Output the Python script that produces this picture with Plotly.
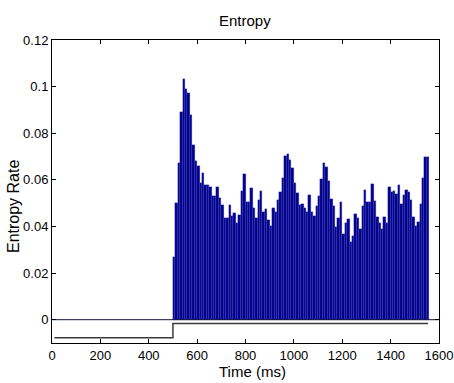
import plotly.graph_objects as go

# Entropy rate per 10 ms bin, starting at 500 ms
bin_start = 500
bin_width = 10
entropy_rate = [
    0.0267, 0.050, 0.0674, 0.0889, 0.1031, 0.0989, 0.0974, 0.0879, 0.075, 0.0679,
    0.066, 0.0586, 0.0629, 0.0579, 0.0579, 0.0571, 0.0529, 0.0529, 0.0571, 0.0521,
    0.049, 0.0436, 0.0436, 0.049, 0.0446, 0.0457, 0.0417, 0.045, 0.0553, 0.0626,
    0.0503, 0.0503, 0.0564, 0.0481, 0.0436, 0.0514, 0.0554, 0.0464, 0.0476, 0.0429,
    0.040, 0.0479, 0.0464, 0.0514, 0.055, 0.0607, 0.0703, 0.071, 0.0686, 0.065,
    0.0586, 0.0543, 0.049, 0.0497, 0.0479, 0.046, 0.0536, 0.0464, 0.0446, 0.0486,
    0.0529, 0.0603, 0.0671, 0.0654, 0.0596, 0.0519, 0.0486, 0.0396, 0.0436, 0.0504,
    0.0369, 0.0414, 0.0433, 0.0333, 0.036, 0.0453, 0.0436, 0.039, 0.0489, 0.0557,
    0.0507, 0.0507, 0.0583, 0.051, 0.0439, 0.0414, 0.0389, 0.0439, 0.0414, 0.0569,
    0.055, 0.0553, 0.0539, 0.0576, 0.0496, 0.0536, 0.0557, 0.0546, 0.0514, 0.0439,
    0.040, 0.0419, 0.0497, 0.0607, 0.0697, 0.0697,
]
bin_centers = [bin_start + bin_width * (i + 0.5) for i in range(len(entropy_rate))]

# Stimulus trace drawn below the bars
stim_t = [10, 500, 500, 1555]
stim_v = [-0.0077, -0.0077, -0.0016, -0.0016]

# Baseline
base_t = [0, 1600]
base_v = [0, 0]

x_ticks = [0, 200, 400, 600, 800, 1000, 1200, 1400, 1600]
y_ticks = [0, 0.02, 0.04, 0.06, 0.08, 0.1, 0.12]
y_tick_text = ["0", "0.02", "0.04", "0.06", "0.08", "0.1", "0.12"]

fig = go.Figure()
fig.add_trace(go.Bar(
    x=bin_centers, y=entropy_rate, width=bin_width,
    marker=dict(color="#00008C", line=dict(color="rgba(70,70,190,0.6)", width=0.4)),
    showlegend=False, hoverinfo="skip",
))
fig.add_trace(go.Scatter(
    x=base_t, y=base_v, mode="lines",
    line=dict(color="#101040", width=1), showlegend=False, hoverinfo="skip",
))
fig.add_trace(go.Scatter(
    x=stim_t, y=stim_v, mode="lines",
    line=dict(color="#3a3a3a", width=1.5), showlegend=False, hoverinfo="skip",
))

font_family = "Liberation Sans, Arial, Helvetica, sans-serif"
fig.update_layout(
    width=454, height=383,
    margin=dict(l=52, r=15, t=40, b=40, autoexpand=False),
    paper_bgcolor="white", plot_bgcolor="white",
    bargap=0,
    font=dict(family=font_family, size=13, color="black"),
    xaxis=dict(
        range=[0, 1600], tickvals=x_ticks, ticktext=[str(v) for v in x_ticks],
        ticks="inside", ticklen=4, tickcolor="black",
        showline=True, linecolor="black", linewidth=1, mirror="ticks",
        showgrid=False, zeroline=False, automargin=False,
        tickfont=dict(size=13),
    ),
    yaxis=dict(
        range=[-0.01, 0.12], tickvals=y_ticks, ticktext=y_tick_text,
        ticks="inside", ticklen=4, tickcolor="black",
        showline=True, linecolor="black", linewidth=1, mirror="ticks",
        showgrid=False, zeroline=False, automargin=False,
        tickfont=dict(size=13),
    ),
    annotations=[
        dict(text="Entropy", xref="paper", yref="paper", x=0.4987, y=1.066,
             xanchor="center", yanchor="middle", showarrow=False, font=dict(size=15)),
        dict(text="Time (ms)", xref="paper", yref="paper", x=0.517, y=-0.093,
             xanchor="center", yanchor="middle", showarrow=False, font=dict(size=15)),
        dict(text="Entropy Rate", xref="paper", yref="paper", x=-0.098, y=0.449,
             xanchor="center", yanchor="middle", showarrow=False, textangle=-90,
             font=dict(size=16)),
    ],
)

fig.write_html(
    "out.html",
    config={"displayModeBar": False},
    post_script="document.body.style.margin='0';document.body.style.overflow='hidden';",
)
